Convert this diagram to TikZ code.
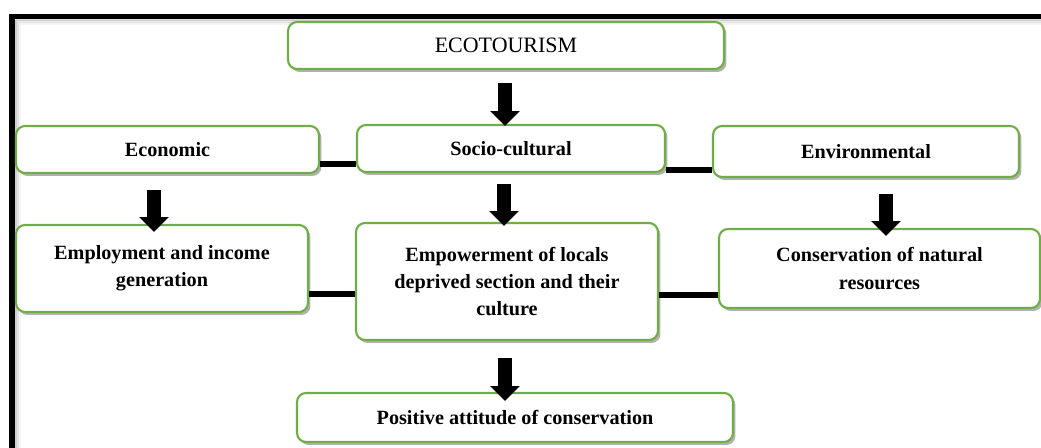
\documentclass[tikz,border=0pt]{standalone}
\usepackage{fontspec}
\setmainfont{Liberation Serif}
\usepackage{tikz}
\usetikzlibrary{arrows.meta,calc,shadows}
\definecolor{boxgreen}{HTML}{70AD47}
\definecolor{framegray}{HTML}{9A9A9A}

\tikzset{
  box/.style={draw=boxgreen, line width=1.2pt, fill=white, rounded corners=0.18cm,
    align=center, inner sep=2pt, font=\fontsize{11.5}{15.5}\selectfont\bfseries,
    drop shadow={shadow xshift=0.05cm, shadow yshift=-0.06cm, fill=black, opacity=0.3}},
  blockarr/.style={line width=8.5pt, -{Triangle[width=16.5pt,length=8.5pt]}},
  link/.style={line width=3.4pt}
}

\begin{document}
\begin{tikzpicture}[x=0.02cm, y=-0.02cm]
  \useasboundingbox (0,0) rectangle (1041,448);
  % outer frame, runs past the page on the right and bottom
  \foreach \d/\o in {3/0.35, 5/0.2, 7/0.1}
    \draw[framegray, line width=2pt, opacity=\o] (12+\d,1060) -- (12+\d,16.5+\d) -- (1060,16.5+\d);
  \draw[line width=3.2pt] (12,1060) -- (12,16.5) -- (1060,16.5);

  \node[box, minimum width=8.72cm, minimum height=0.94cm, font=\fontsize{12.5}{15.5}\selectfont] (eco) at (506,45.5) {ECOTOURISM};
  \node[box, minimum width=6.06cm, minimum height=0.94cm] (econ) at (167.5,149.5) {Economic};
  \node[box, minimum width=6.16cm, minimum height=0.94cm] (socio) at (511,148.5) {Socio-cultural};
  \node[box, minimum width=6.12cm, minimum height=1.02cm] (env) at (866,151.5) {Environmental};
  \node[box, minimum width=5.84cm, minimum height=1.74cm] (employ) at (162,268.5) {Employment and income\\generation};
  \node[box, minimum width=6.04cm, minimum height=2.34cm] (empower) at (507,281.5) {Empowerment of locals\\deprived section and their\\culture};
  \node[box, minimum width=6.42cm, minimum height=1.58cm] (conserv) at (879.5,268.5) {Conservation of natural\\resources};
  \node[box, minimum width=8.72cm, minimum height=0.98cm] (positive) at (515,417.5) {Positive attitude of conservation};

  % arrows down
  \draw[blockarr] ($(eco.south)+(-1,13)$) -- ($(eco.south|-socio.north)+(-1,2)$);
  \draw[blockarr] ($(econ.south)+(-13.5,16)$) -- ($(econ.south|-employ.north)+(-13.5,8)$);
  \draw[blockarr] ($(socio.south)+(-7,11)$) -- ($(socio.south|-empower.north)+(-7,4)$);
  \draw[blockarr] ($(env.south)+(20,16)$) -- ($(env.south|-conserv.north)+(20,8)$);
  \draw[blockarr] ($(empower.south)+(-2,17)$) -- ($(empower.south|-positive.north)+(-2,9)$);

  % side links
  \draw[link] ($(econ.east)+(0,14.5)$) -- ($(socio.west|-econ.east)+(0,14.5)$);
  \draw[link] ($(socio.east)+(0,21.5)$) -- ($(env.west|-socio.east)+(0,21.5)$);
  \draw[link] ($(employ.east)+(0,25.5)$) -- ($(empower.west|-employ.east)+(0,25.5)$);
  \draw[link] ($(empower.east)+(0,13.5)$) -- ($(conserv.west|-empower.east)+(0,13.5)$);
\end{tikzpicture}
\end{document}
